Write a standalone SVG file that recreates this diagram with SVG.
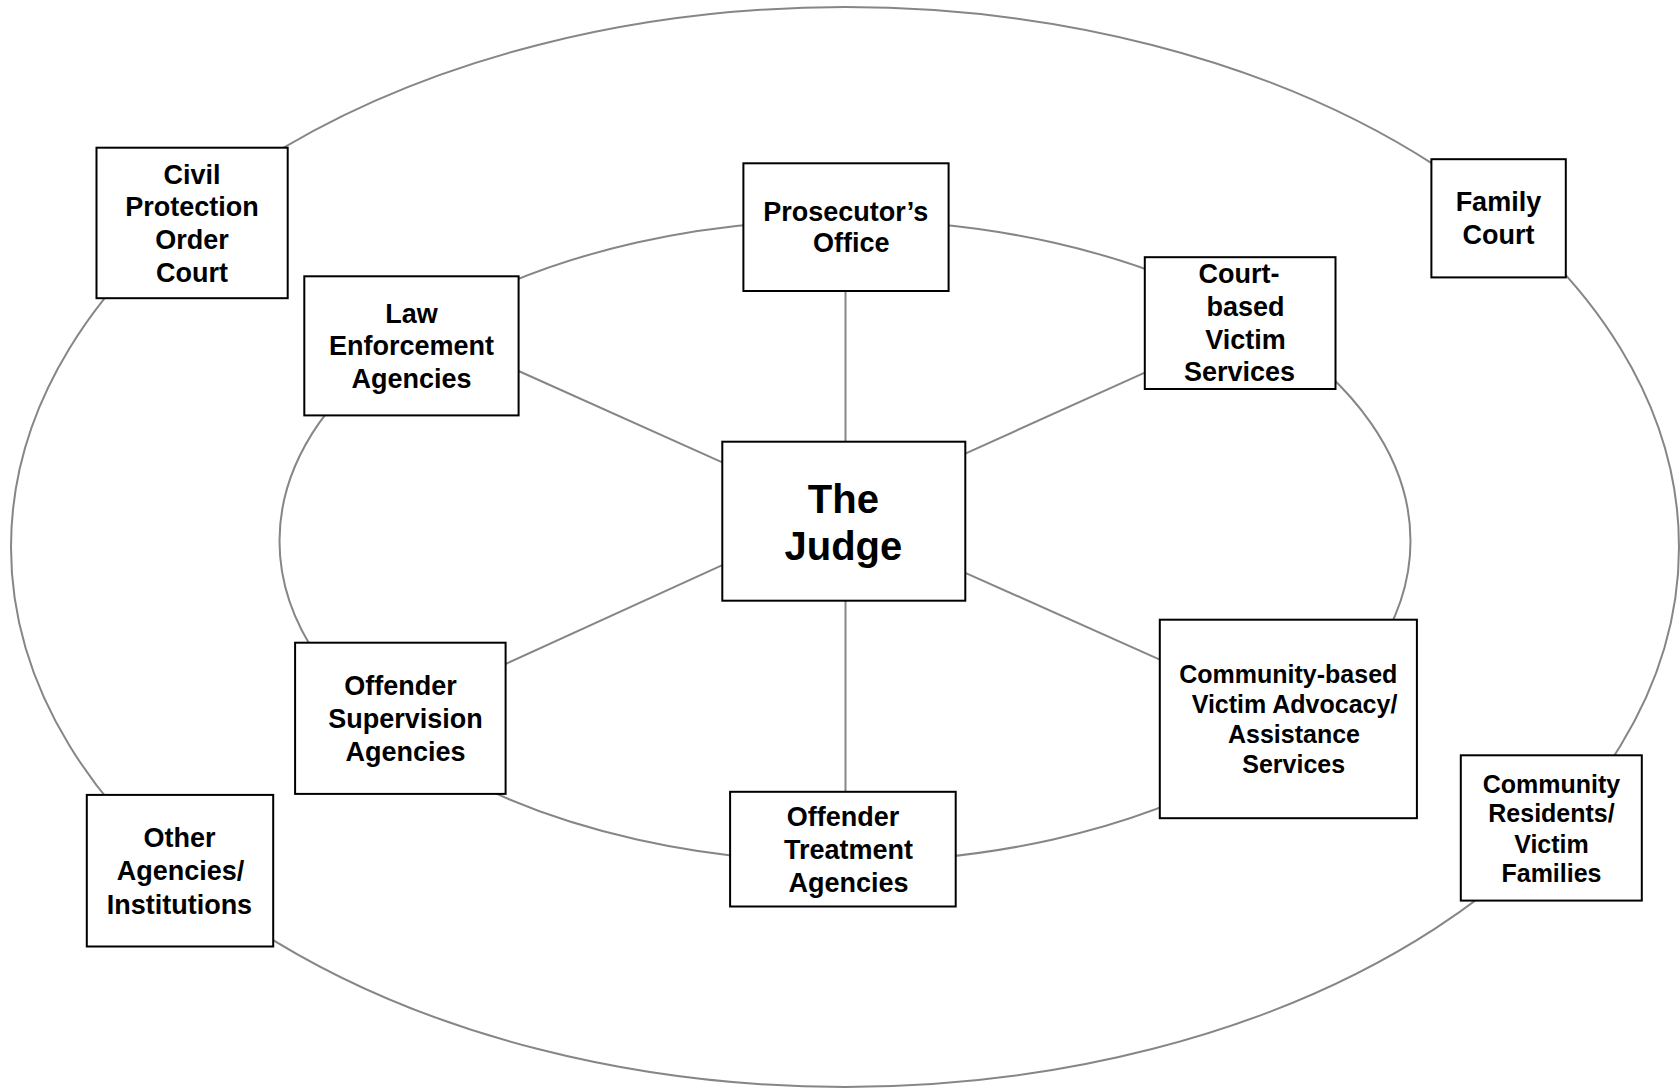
<svg xmlns="http://www.w3.org/2000/svg" width="1680" height="1089" viewBox="0 0 1680 1089">
<style>
.ring{fill:none;stroke:#868686;stroke-width:2}
.link{stroke:#868686;stroke-width:2;fill:none}
.box{fill:#fff;stroke:#000;stroke-width:2}
.t{font-family:"Liberation Sans",Arial,sans-serif;font-weight:bold;font-size:27px;fill:#000;text-anchor:middle}
.s{font-size:25px}
.j{font-size:40px}
</style>
<rect width="1680" height="1089" fill="#fff"/>
<g id="rings">
<ellipse class="ring" cx="845" cy="547" rx="834" ry="540"/>
<ellipse class="ring" cx="845" cy="541" rx="565.5" ry="321"/>
</g>
<g id="connectors">
<line class="link" x1="845.5" y1="291" x2="845.5" y2="442"/>
<line class="link" x1="845.5" y1="601" x2="845.5" y2="792"/>
<line class="link" x1="518.6" y1="371" x2="722.3" y2="462.3"/>
<line class="link" x1="1144.8" y1="372.6" x2="965.3" y2="453.6"/>
<line class="link" x1="505.6" y1="664" x2="722.3" y2="565.2"/>
<line class="link" x1="965.3" y1="572.8" x2="1159.8" y2="659.7"/>
</g>
<g id="civil-protection-order-court">
<rect class="box" x="96.5" y="147.7" width="191.2" height="150.5"/>
<text class="t" x="192" y="184.2">Civil</text>
<text class="t" x="192" y="216.4">Protection</text>
<text class="t" x="192" y="249.4">Order</text>
<text class="t" x="192" y="282.2">Court</text>
</g>
<g id="law-enforcement-agencies">
<rect class="box" x="304.3" y="276.3" width="214.3" height="139.1"/>
<text class="t" x="411.5" y="322.6">Law</text>
<text class="t" x="411.5" y="355.2">Enforcement</text>
<text class="t" x="411.5" y="387.8">Agencies</text>
</g>
<g id="prosecutors-office">
<rect class="box" x="743.4" y="163.3" width="205.2" height="127.7"/>
<text class="t" x="845.8" y="220.7">Prosecutor’s</text>
<text class="t" x="851.3" y="251.7">Office</text>
</g>
<g id="court-based-victim-services">
<rect class="box" x="1144.8" y="257.2" width="190.7" height="131.8"/>
<text class="t" x="1239" y="283.3">Court-</text>
<text class="t" x="1245.5" y="316.3">based</text>
<text class="t" x="1245.5" y="348.6">Victim</text>
<text class="t" x="1239.6" y="381.3">Services</text>
</g>
<g id="family-court">
<rect class="box" x="1431.4" y="159.2" width="134.4" height="118.2"/>
<text class="t" x="1498.4" y="211.3">Family</text>
<text class="t" x="1498.4" y="244.4">Court</text>
</g>
<g id="the-judge">
<rect class="box" x="722.3" y="441.7" width="243" height="159"/>
<text class="t j" x="843.4" y="512.7">The</text>
<text class="t j" x="843.4" y="560">Judge</text>
</g>
<g id="offender-supervision-agencies">
<rect class="box" x="295.1" y="642.7" width="210.5" height="151.2"/>
<text class="t" x="400.6" y="695.2">Offender</text>
<text class="t" x="405.5" y="728.2">Supervision</text>
<text class="t" x="405.5" y="760.5">Agencies</text>
</g>
<g id="community-based-victim-advocacy">
<rect class="box" x="1159.8" y="619.7" width="257.1" height="198.5"/>
<text class="t s" x="1288.3" y="683">Community-based</text>
<text class="t s" x="1294.5" y="712.9">Victim Advocacy/</text>
<text class="t s" x="1294" y="743.1">Assistance</text>
<text class="t s" x="1293.7" y="772.7">Services</text>
</g>
<g id="other-agencies-institutions">
<rect class="box" x="86.8" y="794.9" width="186.4" height="151.6"/>
<text class="t" x="179.4" y="847.4">Other</text>
<text class="t" x="180.5" y="880.4">Agencies/</text>
<text class="t" x="179.4" y="914.1">Institutions</text>
</g>
<g id="offender-treatment-agencies">
<rect class="box" x="730.1" y="791.8" width="225.6" height="114.7"/>
<text class="t" x="843" y="825.9">Offender</text>
<text class="t" x="848.6" y="858.9">Treatment</text>
<text class="t" x="848.6" y="891.9">Agencies</text>
</g>
<g id="community-residents-victim-families">
<rect class="box" x="1460.8" y="755.3" width="181" height="145.3"/>
<text class="t s" x="1551.5" y="792.5">Community</text>
<text class="t s" x="1551.5" y="822.4">Residents/</text>
<text class="t s" x="1551.5" y="852.6">Victim</text>
<text class="t s" x="1551.5" y="882.2">Families</text>
</g>
</svg>
